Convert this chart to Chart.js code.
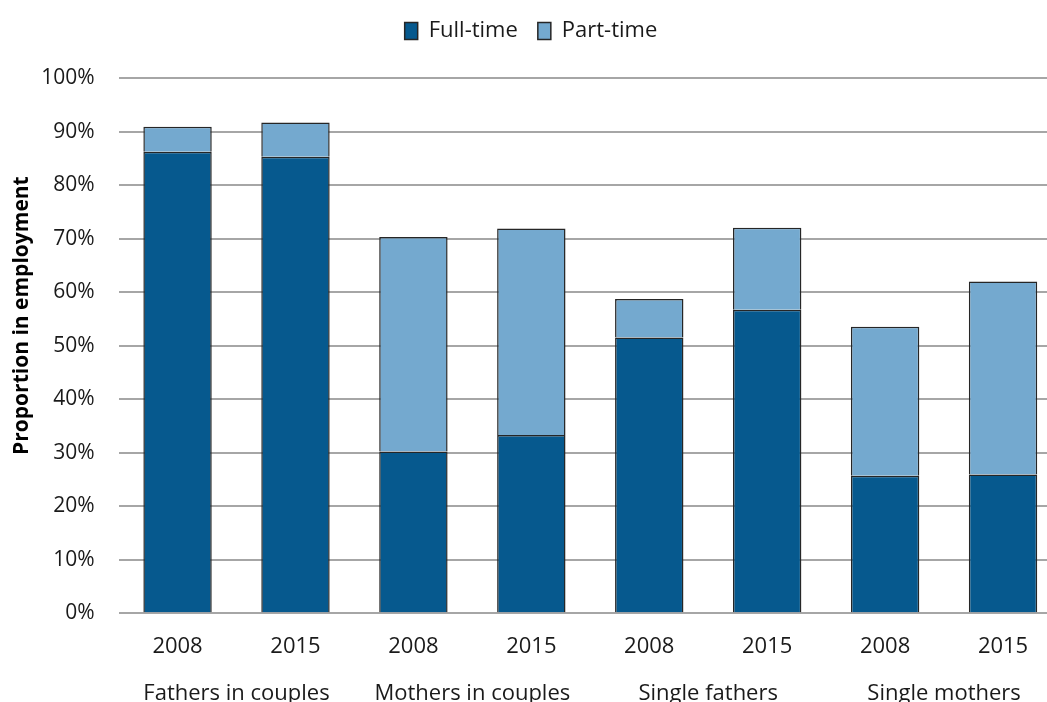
<!DOCTYPE html>
<html>
<head>
<meta charset="utf-8">
<script src="https://cdn.jsdelivr.net/npm/chart.js@4"></script>
<style>
    html, body { margin: 0; padding: 0; overflow: hidden; background: #fff; }
    #wrap { width: 1062px; height: 708px; position: relative; }
</style>
</head>
<body>
<div id="wrap"><canvas id="chart"></canvas></div>
<script>
// values (percent)
const years = ['2008', '2015', '2008', '2015', '2008', '2015', '2008', '2015'];
const groups = ['Fathers in couples', 'Mothers in couples', 'Single fathers', 'Single mothers'];
const fullTime = [86.2, 85.3, 30.2, 33.3, 51.5, 56.7, 25.7, 25.9];
const partTime = [4.7, 6.4, 40.1, 38.6, 7.2, 15.3, 27.8, 36.1];

const fontFamily = '"Open Sans", "DejaVu Sans", sans-serif';
const gridGrey = '#a6a6a6';
const edge = '#262626';

// extra room under the legend, like the original
const legendGap = {
    id: 'legendGap',
    beforeInit(chart) {
        const fit = chart.legend.fit;
        chart.legend.fit = function() {
            fit.bind(chart.legend)();
            this.height += 26;
        };
    },
};

document.addEventListener('DOMContentLoaded', function() {
    new Chart(document.getElementById('chart').getContext('2d'), {
        type: 'bar',
        data: {
            labels: years,
            datasets: [
                {
                    label: 'Full-time',
                    data: fullTime,
                    backgroundColor: '#06598e',
                    borderColor: edge,
                    borderWidth: 1.5,
                    barPercentage: 0.58,
                    categoryPercentage: 1,
                },
                {
                    label: 'Part-time',
                    data: partTime,
                    backgroundColor: '#74a9cf',
                    borderColor: edge,
                    borderWidth: 1.5,
                    barPercentage: 0.58,
                    categoryPercentage: 1,
                },
            ],
        },
        plugins: [legendGap],
        options: {
            responsive: true,
            maintainAspectRatio: false,
            animation: false,
            layout: { padding: { top: 0, left: 0, right: 0, bottom: 0 } },
            plugins: {
                tooltip: { enabled: false },
                legend: {
                    position: 'top',
                    labels: {
                        color: '#1a1a1a',
                        font: { family: fontFamily, size: 22 },
                        boxWidth: 13,
                        boxHeight: 17,
                        padding: 20,
                    },
                },
            },
            scales: {
                x: {
                    stacked: true,
                    grid: { display: false, drawTicks: false },
                    border: { display: false },
                    ticks: {
                        color: '#1a1a1a',
                        font: { family: fontFamily, size: 22 },
                        padding: 20,
                        maxRotation: 0,
                    },
                },
                groups: {
                    type: 'category',
                    position: 'bottom',
                    labels: groups,
                    offset: true,
                    grid: { display: false, drawTicks: false },
                    border: { display: false },
                    ticks: {
                        color: '#1a1a1a',
                        font: { family: fontFamily, size: 22 },
                        padding: 1,
                        maxRotation: 0,
                        autoSkip: false,
                    },
                },
                y: {
                    stacked: true,
                    min: 0,
                    max: 100,
                    grid: { color: gridGrey, lineWidth: 2, drawTicks: false },
                    border: { display: false },
                    ticks: {
                        stepSize: 10,
                        color: '#1a1a1a',
                        font: { family: fontFamily, size: 21 },
                        padding: 24,
                        callback: v => v + '%',
                    },
                    title: {
                        display: true,
                        text: '           Proportion in employment',
                        color: '#000',
                        font: { family: fontFamily, size: 21, weight: 'bold' },
                        padding: { top: 9, bottom: -17 },
                    },
                },
            },
        },
    });
});
</script>
</body>
</html>
